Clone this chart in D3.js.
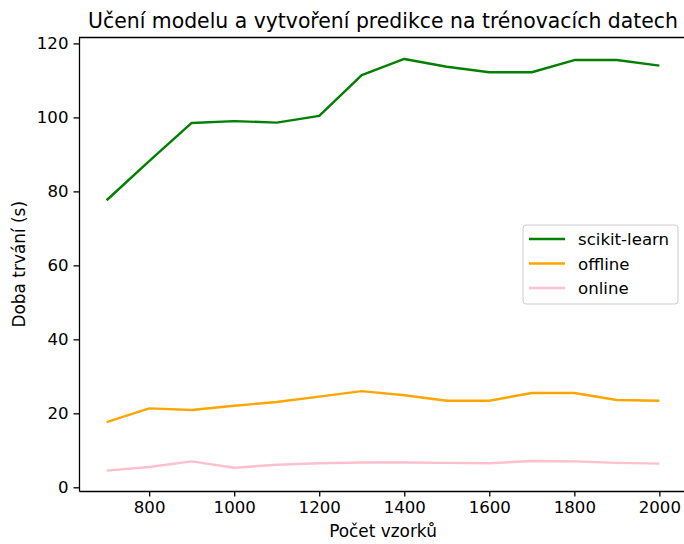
<!DOCTYPE html>
<html>
<head>
<meta charset="utf-8">
<script src="https://cdn.jsdelivr.net/npm/d3@7"></script>
<style>
  body { margin: 0; background: #fff; }
  text { font-family: "DejaVu Sans", sans-serif; fill: #000; }
</style>
</head>
<body>
<div id="chart"></div>
<script>
// sample counts
const samples = [700, 800, 900, 1000, 1100, 1200, 1300, 1400, 1500, 1600, 1700, 1800, 1900, 2000];

// durations in seconds
const sklearnTimes = [77.6, 88.2, 98.5, 99.0, 98.6, 100.4, 111.4, 115.8, 113.7, 112.2, 112.2, 115.5, 115.5, 114.0];
const offlineTimes = [17.6, 21.35, 20.9, 22.05, 23.05, 24.5, 26.0, 24.9, 23.4, 23.4, 25.5, 25.5, 23.6, 23.4];
const onlineTimes = [4.5, 5.5, 7.0, 5.3, 6.1, 6.5, 6.7, 6.7, 6.6, 6.5, 7.1, 7.0, 6.6, 6.4];

const xTicks = [800, 1000, 1200, 1400, 1600, 1800, 2000];
const yTicks = [0, 20, 40, 60, 80, 100, 120];

const seriesNames = ['scikit-learn', 'offline', 'online'];
const seriesColors = ['green', 'orange', 'pink'];

const width = 684;
const height = 544;
const margin = { top: 37.5, right: -3, bottom: 53, left: 79 };

const innerW = width - margin.left - margin.right;
const innerH = height - margin.top - margin.bottom;

const x = d3.scaleLinear().domain([635, 2065]).range([0, innerW]);
const y = d3.scaleLinear().domain([-1.0, 121.6]).range([innerH, 0]);

const svg = d3.select('#chart').append('svg')
  .attr('width', width)
  .attr('height', height);

const g = svg.append('g')
  .attr('transform', 'translate(' + margin.left + ',' + margin.top + ')');

const series = [sklearnTimes, offlineTimes, onlineTimes];

const line = d3.line()
  .x((d, i) => x(samples[i]))
  .y(d => y(d));

series.forEach((vals, k) => {
  g.append('path')
    .datum(vals)
    .attr('fill', 'none')
    .attr('stroke', seriesColors[k])
    .attr('stroke-width', 2.4)
    .attr('stroke-linejoin', 'round')
    .attr('d', line);
});

// axes
const xAxis = g.append('g')
  .attr('transform', 'translate(0,' + innerH + ')')
  .call(d3.axisBottom(x).tickValues(xTicks).tickFormat(d3.format('d'))
    .tickSize(5.5).tickPadding(5).tickSizeOuter(0));
const yAxis = g.append('g')
  .call(d3.axisLeft(y).tickValues(yTicks).tickFormat(d3.format('d'))
    .tickSize(5.5).tickPadding(5).tickSizeOuter(0));

[xAxis, yAxis].forEach(a => {
  a.select('.domain').attr('stroke', '#000').attr('stroke-width', 1.3);
  a.selectAll('.tick line').attr('stroke', '#000').attr('stroke-width', 1.3);
  a.selectAll('.tick text').style('font-size', '16.6px');
});

// top spine
g.append('line')
  .attr('x1', 0).attr('x2', innerW)
  .attr('y1', 0).attr('y2', 0)
  .attr('stroke', '#000').attr('stroke-width', 1.3);

// title and axis labels
svg.append('text')
  .attr('x', margin.left + innerW / 2)
  .attr('y', 28)
  .attr('text-anchor', 'middle')
  .style('font-size', '20.4px')
  .text('Učení modelu a vytvoření predikce na trénovacích datech');

svg.append('text')
  .attr('x', margin.left + innerW / 2)
  .attr('y', 537)
  .attr('text-anchor', 'middle')
  .style('font-size', '16.9px')
  .text('Počet vzorků');

svg.append('text')
  .attr('transform', 'translate(25,' + (margin.top + innerH / 2) + ') rotate(-90)')
  .attr('text-anchor', 'middle')
  .style('font-size', '16.9px')
  .text('Doba trvání (s)');

// legend
const legend = svg.append('g').attr('transform', 'translate(523,225)');
legend.append('rect')
  .attr('width', 155).attr('height', 79)
  .attr('rx', 3).attr('ry', 3)
  .attr('fill', '#fff').attr('fill-opacity', 0.8)
  .attr('stroke', '#ccc').attr('stroke-width', 1);

seriesNames.forEach((name, k) => {
  const ly = 14 + k * 24.5;
  legend.append('line')
    .attr('x1', 6).attr('x2', 42)
    .attr('y1', ly).attr('y2', ly)
    .attr('stroke', seriesColors[k]).attr('stroke-width', 2.4);
  legend.append('text')
    .attr('x', 55).attr('y', ly + 6)
    .style('font-size', '16.6px')
    .text(name);
});
</script>
</body>
</html>
